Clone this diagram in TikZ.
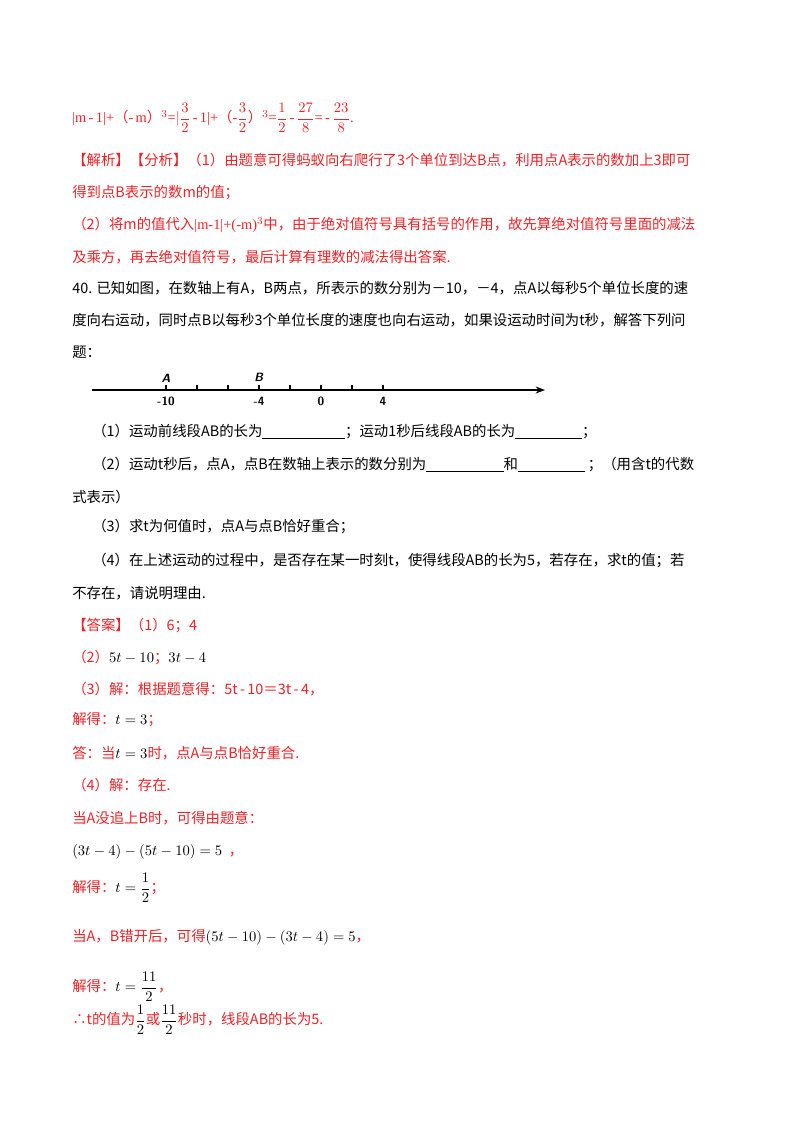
\documentclass[tikz,border=0pt]{standalone}
\usepackage{amsmath}
\usepackage{fontspec}
\usetikzlibrary{arrows.meta}
\setmainfont{Liberation Serif}
\newfontfamily\cjk{Noto Sans CJK SC}
\definecolor{ans}{RGB}{235,35,40}
\newcommand{\blank}[1]{\underline{\hspace{#1}}}
\begin{document}
\begin{tikzpicture}[x=0.75pt,y=-0.75pt,
  txt/.style={anchor=west,inner sep=0pt,font=\fontsize{10.8}{12}\cjk},
  rt/.style={txt,text=ans},
  nl/.style={font=\fontsize{9}{10}\bfseries\sffamily,inner sep=1pt}]
\useasboundingbox (0,0) rectangle (800,1132);
\node[rt] (l1) at (72,118) {\rmfamily|m\,-\,1|+{\cjk（}-\,m{\cjk）}$^3$=$|\dfrac{3}{2}$\,-\,1|+{\cjk（}-$\dfrac{3}{2}${\cjk）}$^3$=$\dfrac{1}{2}$\,-\,$\dfrac{27}{8}$=\,-\,$\dfrac{23}{8}$.};
\node[rt] (l2) at (72,160) {【解析】【分析】（1）由题意可得蚂蚁向右爬行了3个单位到达B点，利用点A表示的数加上3即可};
\node[rt] (l3) at (72,193) {得到点B表示的数m的值；};
\node[rt] (l4) at (72,225) {（2）将m的值代入{\rmfamily|m-1|+(-m)$^3$}中，由于绝对值符号具有括号的作用，故先算绝对值符号里面的减法};
\node[rt] (l5) at (72,257) {及乘方，再去绝对值符号，最后计算有理数的减法得出答案.};
\node[txt] (q1) at (72,288) {40. 已知如图，在数轴上有A，B两点，所表示的数分别为－10，－4，点A以每秒5个单位长度的速};
\node[txt] (q2) at (72,320) {度向右运动，同时点B以每秒3个单位长度的速度也向右运动，如果设运动时间为t秒，解答下列问};
\node[txt] (q3) at (72,352) {题：};
% number line
\coordinate (ns) at (92,390);
\coordinate (ne) at (545,390);
\draw[line width=1.4pt,-{Stealth[length=7pt]}] (ns) -- (ne);
\foreach \v in {-10,-8,-6,-4,-2,0,2,4}{
  \draw[line width=1pt] ({321+15.5*\v},390) -- ({321+15.5*\v},385);}
\node[nl] (na) at (166,378) {\textit{A}};
\node[nl] (nb) at (259,377) {\textit{B}};
\node[nl] (n1) at (166,401) {-10};
\node[nl] (n2) at (259,401) {-4};
\node[nl] (n3) at (321,401) {0};
\node[nl] (n4) at (383,401) {4};
\node[txt] (p1) at (92,432) {（1）运动前线段AB的长为\blank{62pt}；运动1秒后线段AB的长为\blank{50pt}；};
\node[txt] (p2) at (92,465) {（2）运动t秒后，点A，点B在数轴上表示的数分别为\blank{58pt}和\blank{50pt}\ ；（用含t的代数};
\node[txt] (p2b) at (72,497) {式表示）};
\node[txt] (p3) at (92,526) {（3）求t为何值时，点A与点B恰好重合；};
\node[txt] (p4) at (92,560) {（4）在上述运动的过程中，是否存在某一时刻t，使得线段AB的长为5，若存在，求t的值；若};
\node[txt] (p4b) at (72,593) {不存在，请说明理由.};
\node[rt] (a1) at (72,625) {【答案】（1）6；4};
\node[rt] (a2) at (72,657) {（2）\textcolor{black}{$5t-10$}；\textcolor{black}{$3t-4$}};
\node[rt] (a3) at (72,689) {（3）解：根据题意得：5t\,-\,10＝3t\,-\,4，};
\node[rt] (a4) at (72,720) {解得：\textcolor{black}{$t=3$}；};
\node[rt] (a5) at (72,753) {答：当\textcolor{black}{$t=3$}时，点A与点B恰好重合.};
\node[rt] (a6) at (72,785) {（4）解：存在.};
\node[rt] (a7) at (72,818) {当A没追上B时，可得由题意：};
\node[rt] (a8) at (72,852) {\textcolor{black}{$(3t-4)-(5t-10)=5$}\ \ ，};
\node[rt] (a9) at (72,888) {解得：\textcolor{black}{$t=\dfrac{1}{2}$}；};
\node[rt] (a10) at (72,937) {当A，B错开后，可得\textcolor{black}{$(5t-10)-(3t-4)=5$}，};
\node[rt] (a11) at (72,987) {解得：\textcolor{black}{$t=\dfrac{11}{2}$}，};
\node[rt] (a12) at (72,1020) {∴t的值为\textcolor{black}{$\dfrac{1}{2}$}或\textcolor{black}{$\dfrac{11}{2}$}秒时，线段AB的长为5.};
\end{tikzpicture}
\end{document}
